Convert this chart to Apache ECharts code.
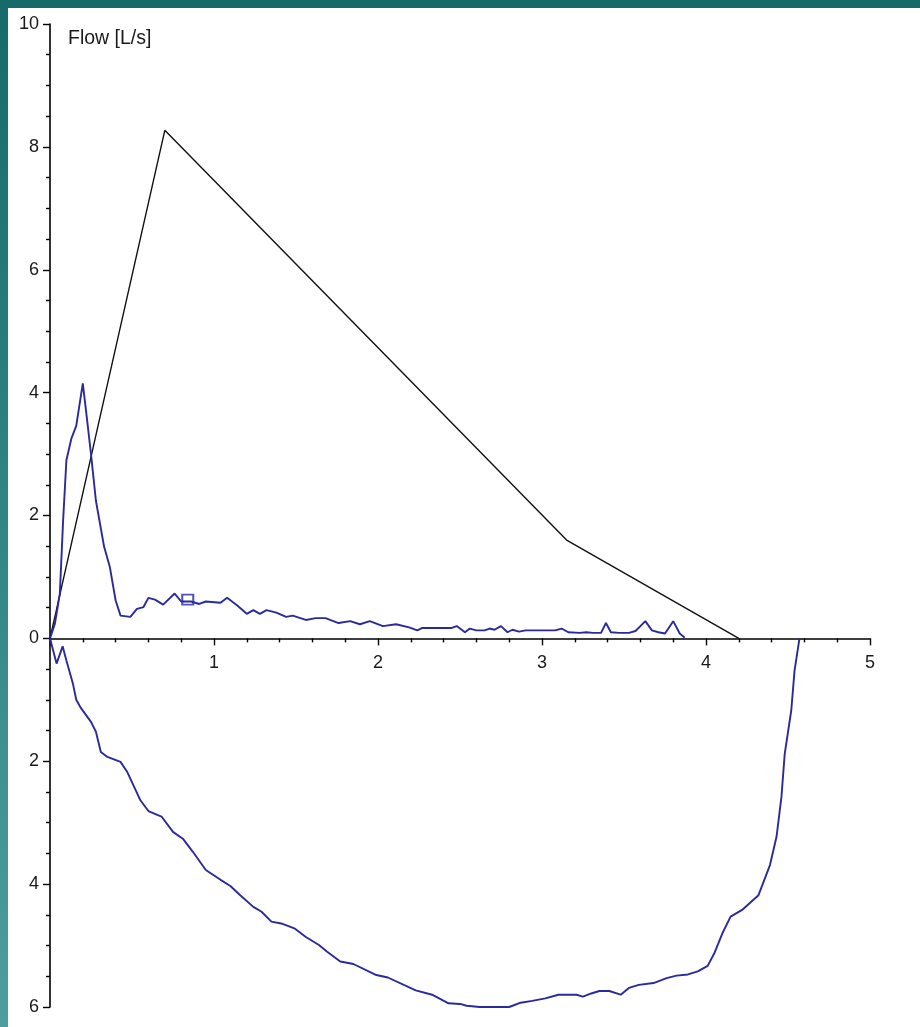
<!DOCTYPE html>
<html>
<head>
<meta charset="utf-8">
<script src="https://cdn.jsdelivr.net/npm/echarts@6/dist/echarts.min.js"></script>
<style>
  html, body { margin: 0; padding: 0; width: 920px; height: 1027px; overflow: hidden; }
  body { background: linear-gradient(to bottom, #166a6a 0%, #2f8282 45%, #4e9e9e 100%); position: relative; }
  #chart { position: absolute; left: 8px; top: 8px; width: 912px; height: 1019px; background: #ffffff; }
</style>
</head>
<body>
<div id="chart"></div>
<script>
// Expiratory flow (positive) vs volume
const expVolume = [0, 0.03, 0.06, 0.08, 0.10, 0.13, 0.16, 0.20, 0.22, 0.25, 0.28, 0.33, 0.365, 0.40, 0.43, 0.49, 0.53, 0.57, 0.60, 0.64, 0.69, 0.76, 0.80, 0.86, 0.91, 0.95, 1.04, 1.08, 1.14, 1.20, 1.24, 1.28, 1.32, 1.38, 1.44, 1.48, 1.56, 1.62, 1.68, 1.76, 1.83, 1.89, 1.95, 2.03, 2.11, 2.19, 2.24, 2.27, 2.45, 2.48, 2.53, 2.56, 2.60, 2.65, 2.68, 2.71, 2.75, 2.79, 2.82, 2.86, 2.90, 3.08, 3.12, 3.16, 3.23, 3.27, 3.31, 3.36, 3.39, 3.42, 3.47, 3.53, 3.57, 3.60, 3.63, 3.67, 3.71, 3.75, 3.80, 3.84, 3.87];
const expFlow   = [0, 0.24, 0.73, 1.92, 2.9, 3.25, 3.46, 4.15, 3.7, 3.0, 2.24, 1.49, 1.16, 0.62, 0.37, 0.35, 0.48, 0.51, 0.66, 0.63, 0.55, 0.73, 0.60, 0.60, 0.56, 0.60, 0.58, 0.66, 0.54, 0.40, 0.46, 0.40, 0.46, 0.42, 0.35, 0.37, 0.30, 0.33, 0.33, 0.25, 0.28, 0.23, 0.28, 0.20, 0.23, 0.18, 0.13, 0.17, 0.17, 0.20, 0.10, 0.16, 0.13, 0.13, 0.16, 0.14, 0.20, 0.10, 0.14, 0.11, 0.13, 0.13, 0.16, 0.10, 0.09, 0.10, 0.09, 0.09, 0.25, 0.10, 0.09, 0.09, 0.12, 0.20, 0.28, 0.13, 0.10, 0.08, 0.28, 0.08, 0.01];

// Inspiratory flow (negative, labelled by magnitude) vs volume
const inspVolume = [0, 0.04, 0.077, 0.10, 0.14, 0.16, 0.19, 0.25, 0.28, 0.31, 0.35, 0.43, 0.47, 0.55, 0.60, 0.68, 0.75, 0.81, 0.87, 0.95, 1.04, 1.10, 1.16, 1.24, 1.29, 1.35, 1.41, 1.49, 1.56, 1.64, 1.69, 1.77, 1.85, 1.99, 2.06, 2.23, 2.33, 2.43, 2.50, 2.54, 2.62, 2.80, 2.87, 2.94, 3.02, 3.10, 3.21, 3.25, 3.30, 3.35, 3.41, 3.48, 3.53, 3.59, 3.68, 3.76, 3.82, 3.89, 3.95, 4.01, 4.05, 4.10, 4.15, 4.22, 4.32, 4.39, 4.43, 4.46, 4.48, 4.52, 4.54, 4.57];
const inspFlow   = [0, -0.41, -0.13, -0.36, -0.74, -1.0, -1.14, -1.36, -1.52, -1.85, -1.93, -2.01, -2.17, -2.63, -2.81, -2.90, -3.15, -3.26, -3.47, -3.77, -3.93, -4.03, -4.18, -4.37, -4.45, -4.61, -4.64, -4.72, -4.86, -4.99, -5.10, -5.26, -5.30, -5.48, -5.52, -5.73, -5.80, -5.94, -5.95, -5.98, -6.0, -6.0, -5.93, -5.90, -5.86, -5.80, -5.80, -5.83, -5.78, -5.74, -5.74, -5.80, -5.69, -5.64, -5.61, -5.53, -5.49, -5.47, -5.42, -5.33, -5.13, -4.80, -4.53, -4.42, -4.18, -3.69, -3.23, -2.58, -1.88, -1.17, -0.52, 0];

// Predicted flow-volume envelope (black)
const predVolume = [0, 0.70, 3.15, 4.20];
const predFlow   = [0, 8.27, 1.60, 0];

// Marker (small square)
const markerVolume = [0.84];
const markerFlow   = [0.63];

// Axis ticks
const xTicks = [0, 1, 2, 3, 4, 5];
const yTicks = [-6, -4, -2, 0, 2, 4, 6, 8, 10];

const zip = (a, b) => a.map((v, i) => [v, b[i]]);
const blue = '#2a2a9c';
const font = '"Liberation Sans", Arial, sans-serif';
const gridBottom = 20;

const chart = echarts.init(document.getElementById('chart'), null, { renderer: 'canvas' });
chart.setOption({
  animation: false,
  backgroundColor: '#ffffff',
  title: {
    text: 'Flow [L/s]',
    left: 55, top: 16,
    textStyle: { fontFamily: font, fontSize: 19.5, fontWeight: 'normal', color: '#1a1a1a' }
  },
  grid: { left: 42, right: 50, top: 16, bottom: gridBottom, containLabel: false, outerBoundsMode: 'none' },
  xAxis: {
    type: 'value', position: 'bottom', offset: 0,
    min: xTicks[0], max: xTicks[xTicks.length - 1], interval: 1,
    axisLine: { show: true, onZero: false, lineStyle: { color: '#000', width: 1.6 } },
    axisTick: { show: true, inside: false, length: 7, lineStyle: { color: '#000', width: 1.4 } },
    minorTick: { show: true, splitNumber: 5, length: 4, lineStyle: { color: '#000', width: 1.4 } },
    splitLine: { show: false },
    axisLabel: {
      margin: 16, fontFamily: font, fontSize: 18, color: '#1a1a1a',
      formatter: v => (v === 0 ? '' : String(v))
    }
  },
  yAxis: {
    type: 'value',
    min: yTicks[0], max: yTicks[yTicks.length - 1], interval: 2,
    axisLine: { show: true, onZero: false, lineStyle: { color: '#000', width: 1.6 } },
    axisTick: { show: true, inside: false, length: 7, lineStyle: { color: '#000', width: 1.4 } },
    minorTick: { show: true, splitNumber: 4, length: 4, lineStyle: { color: '#000', width: 1.4 } },
    splitLine: { show: false },
    axisLabel: {
      margin: 11, fontFamily: font, fontSize: 18, color: '#1a1a1a',
      formatter: v => String(Math.abs(v))
    }
  },
  series: [
    {
      type: 'line', data: zip(predVolume, predFlow), showSymbol: false, symbol: 'none',
      lineStyle: { color: '#111', width: 1.4 }, z: 3
    },
    {
      type: 'line', data: zip(expVolume, expFlow), showSymbol: false, symbol: 'none',
      lineStyle: { color: blue, width: 1.9 }, z: 4
    },
    {
      type: 'line', data: zip(inspVolume, inspFlow), showSymbol: false, symbol: 'none',
      lineStyle: { color: blue, width: 1.9 }, z: 4
    },
    {
      type: 'scatter', data: zip(markerVolume, markerFlow), symbol: 'rect', symbolSize: [11, 10],
      itemStyle: { color: 'rgba(0,0,0,0)', borderColor: blue, borderWidth: 2 }, z: 5
    }
  ]
});

// Move the x axis (line, ticks and labels) up to flow = 0, using the library's own scale.
for (let pass = 0; pass < 3; pass++) {
  const zeroPx = chart.convertToPixel({ yAxisIndex: 0 }, 0);
  const gridRect = chart.getModel().getComponent('grid', 0).coordinateSystem.getRect();
  const bottomPx = gridRect.y + gridRect.height;
  chart.setOption({ xAxis: { offset: -(bottomPx - zeroPx) } });
}
</script>
</body>
</html>
